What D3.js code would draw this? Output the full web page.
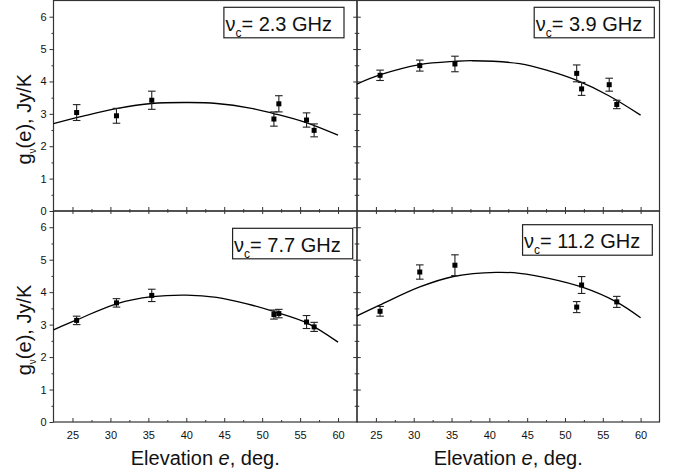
<!DOCTYPE html>
<html>
<head>
<meta charset="utf-8">
<script src="https://cdn.jsdelivr.net/npm/d3@7"></script>
<style>
  html, body { margin: 0; padding: 0; background: #fff; }
  svg { display: block; }
  text { font-family: "Liberation Sans", Arial, Helvetica, sans-serif; fill: #111; }
</style>
</head>
<body>
<svg id="chart" width="677" height="475"></svg>
<script>
// ---------------- DATA ----------------
const elevations = [25.55, 30.8, 35.45, 51.55, 52.2, 55.85, 56.85];

const freqLabels = ["2.3", "3.9", "7.7", "11.2"];

const g23  = [3.04, 2.94, 3.42, 2.84, 3.31, 2.81, 2.49];
const e23  = [0.245, 0.23, 0.28, 0.22, 0.25, 0.22, 0.20];
const g39  = [4.19, 4.49, 4.54, 4.25, 3.77, 3.90, 3.29];
const e39  = [0.16, 0.17, 0.24, 0.26, 0.20, 0.20, 0.13];
const g77  = [3.13, 3.67, 3.90, 3.31, 3.34, 3.08, 2.93];
const e77  = [0.13, 0.13, 0.19, 0.14, 0.13, 0.20, 0.14];
const g112 = [3.41, 4.62, 4.83, 3.54, 4.22, null, 3.70];
const e112 = [0.15, 0.22, 0.32, 0.17, 0.26, null, 0.17];

// fitted curves: [elevation, g]
const fit23  = [[22.5,2.70],[26.4,2.93],[30.8,3.16],[35.4,3.32],[40.4,3.35],[44.0,3.32],[48.4,3.18],[51.5,3.01],[55.8,2.73],[60.0,2.34]];
const fit39  = [[22.5,3.92],[25.5,4.20],[30.8,4.52],[35.4,4.62],[37.8,4.64],[44.0,4.55],[48.0,4.32],[51.5,4.04],[55.8,3.56],[60.0,2.96]];
const fit77  = [[22.5,2.84],[25.7,3.16],[30.9,3.65],[35.5,3.86],[40.0,3.91],[44.0,3.84],[48.0,3.64],[51.7,3.39],[56.0,3.04],[60.0,2.46]];
const fit112 = [[22.5,3.27],[25.5,3.60],[30.8,4.16],[35.4,4.49],[40.9,4.61],[44.0,4.58],[48.0,4.42],[52.2,4.16],[56.8,3.70],[60.0,3.21]];

const xMajor = [25, 30, 35, 40, 45, 50, 55, 60];
const xMinor = [27.5, 32.5, 37.5, 42.5, 47.5, 52.5, 57.5];
const yMajor = [0, 1, 2, 3, 4, 5, 6];
const yMinor = [0.5, 1.5, 2.5, 3.5, 4.5, 5.5];

const xDomain = [22.5, 62.5];
const yDomain = [0, 6.5];

// ---------------- LAYOUT ----------------
const colX = [[53.5, 357], [357, 659.5]];
const rowY = [[0.5, 211], [211, 422]];
const legendPos = [[13, 6.8], [5.2, 6.8], [4.3, 17.3], [7.2, 13.7]]; // right inset, top inset

const panels = [
  { col: 0, row: 0, vals: g23,  errs: e23,  fit: fit23,  label: freqLabels[0] },
  { col: 1, row: 0, vals: g39,  errs: e39,  fit: fit39,  label: freqLabels[1] },
  { col: 0, row: 1, vals: g77,  errs: e77,  fit: fit77,  label: freqLabels[2] },
  { col: 1, row: 1, vals: g112, errs: e112, fit: fit112, label: freqLabels[3] }
];

const svg = d3.select("#chart");
const ink = "#1a1a1a";

panels.forEach((p, i) => {
  const [x0, x1] = colX[p.col];
  const [yTop, yBot] = rowY[p.row];
  const x = d3.scaleLinear().domain(xDomain).range([x0, x1]);
  const y = d3.scaleLinear().domain(yDomain).range([yBot, yTop]);
  const g = svg.append("g");

  // frame
  g.append("rect").attr("x", x0).attr("y", yTop).attr("width", x1 - x0).attr("height", yBot - yTop)
    .attr("fill", "none").attr("stroke", "#333").attr("stroke-width", 1.2);

  const styleAxis = sel => {
    sel.select(".domain").remove();
    sel.selectAll("line").attr("stroke", "#333").attr("stroke-width", 1);
    sel.selectAll("text").attr("font-size", 11).attr("fill", "#222")
      .style("font-family", '"Liberation Sans", Arial, sans-serif');
  };

  // y axis ticks
  if (p.col === 0) {
    g.append("g").attr("transform", `translate(${x0},0)`)
      .call(d3.axisLeft(y).tickValues(yMajor).tickSize(4).tickPadding(3).tickFormat(d3.format("d")))
      .call(styleAxis);
    g.append("g").attr("transform", `translate(${x0},0)`)
      .call(d3.axisLeft(y).tickValues(yMinor).tickSize(2).tickFormat(""))
      .call(styleAxis);
  } else {
    [d3.axisLeft, d3.axisRight].forEach(ax => {
      g.append("g").attr("transform", `translate(${x0},0)`)
        .call(ax(y).tickValues(yMajor.filter(v => v > 0)).tickSize(3.8).tickFormat(""))
        .call(styleAxis);
      g.append("g").attr("transform", `translate(${x0},0)`)
        .call(ax(y).tickValues(yMinor).tickSize(2.3).tickFormat(""))
        .call(styleAxis);
    });
  }

  // bottom axis ticks (inward)
  g.append("g").attr("transform", `translate(0,${yBot})`)
    .call(d3.axisBottom(x).tickValues(xMajor).tickSizeInner(-4).tickSizeOuter(0).tickFormat(""))
    .call(styleAxis);
  g.append("g").attr("transform", `translate(0,${yBot})`)
    .call(d3.axisBottom(x).tickValues(xMinor).tickSizeInner(-2).tickSizeOuter(0).tickFormat(""))
    .call(styleAxis);
  if (p.row === 1) {
    // top axis ticks pointing down (inward) -> crossing with upper panel's bottom ticks
    g.append("g").attr("transform", `translate(0,${yTop})`)
      .call(d3.axisTop(x).tickValues(xMajor).tickSizeInner(-3).tickSizeOuter(0).tickFormat(""))
      .call(styleAxis);
    g.append("g").attr("transform", `translate(0,${yTop})`)
      .call(d3.axisTop(x).tickValues(xMinor).tickSizeInner(-1.7).tickSizeOuter(0).tickFormat(""))
      .call(styleAxis);
    // labelled x axis
    const ax = g.append("g").attr("transform", `translate(0,${yBot})`)
      .call(d3.axisBottom(x).tickValues(xMajor).tickSize(0).tickPadding(9).tickFormat(d3.format("d")))
      .call(styleAxis);
    ax.selectAll("line").remove();
    // x title
    const xt = g.append("text").attr("x", (x0 + x1) / 2).attr("y", 465)
      .attr("text-anchor", "middle").attr("font-size", 20).attr("fill", ink);
    xt.append("tspan").text("Elevation ");
    xt.append("tspan").attr("font-style", "italic").text("e");
    xt.append("tspan").text(", deg.");
  }

  // y title
  if (p.col === 0) {
    const cy = (yTop + yBot) / 2 + 13.5;
    const yt = g.append("text").attr("transform", `translate(31,${cy}) rotate(-90)`)
      .attr("text-anchor", "middle").attr("font-size", 20).attr("fill", ink);
    yt.append("tspan").text("g");
    yt.append("tspan").attr("font-size", 10).attr("dy", 5).text("\u03bd");
    yt.append("tspan").attr("dy", -5).text("(e), Jy/K");
  }

  // fitted curve
  const line = d3.line().x(d => x(d[0])).y(d => y(d[1])).curve(d3.curveCatmullRom.alpha(0.5));
  g.append("path").datum(p.fit).attr("d", line)
    .attr("fill", "none").attr("stroke", "#000").attr("stroke-width", 1.3);

  // error bars and points
  const pts = elevations.map((e, k) => ({ e, v: p.vals[k], err: p.errs[k] })).filter(d => d.v != null);
  const eb = g.append("g").attr("stroke", "#222").attr("stroke-width", 1.1);
  pts.forEach(d => {
    const px = x(d.e);
    eb.append("line").attr("x1", px).attr("x2", px).attr("y1", y(d.v - d.err)).attr("y2", y(d.v + d.err));
    eb.append("line").attr("x1", px - 3.8).attr("x2", px + 3.8).attr("y1", y(d.v + d.err)).attr("y2", y(d.v + d.err));
    eb.append("line").attr("x1", px - 3.8).attr("x2", px + 3.8).attr("y1", y(d.v - d.err)).attr("y2", y(d.v - d.err));
  });
  g.append("g").selectAll("rect").data(pts).join("rect")
    .attr("x", d => x(d.e) - 2.5).attr("y", d => y(d.v) - 2.5)
    .attr("width", 5).attr("height", 5).attr("fill", "#000");

  // legend box
  const [rIn, tIn] = legendPos[i];
  const boxR = x1 - rIn, boxT = yTop + tIn, boxH = 30.5;
  const lg = g.append("g");
  const rect = lg.append("rect");
  const lt = lg.append("text").attr("x", boxR - 12).attr("y", boxT + 23.4)
    .attr("text-anchor", "end").attr("font-size", 20).attr("fill", ink);
  lt.append("tspan").text("\u03bd");
  lt.append("tspan").attr("font-size", 12).attr("dy", 6).text("c");
  lt.append("tspan").attr("dy", -6).text("= " + p.label + " GHz");
  const bb = lt.node().getBBox();
  rect.attr("x", bb.x - 1.5).attr("y", boxT).attr("width", boxR - (bb.x - 1.5)).attr("height", boxH)
    .attr("fill", "#fff").attr("stroke", "#222").attr("stroke-width", 1.2);
});
</script>
</body>
</html>
